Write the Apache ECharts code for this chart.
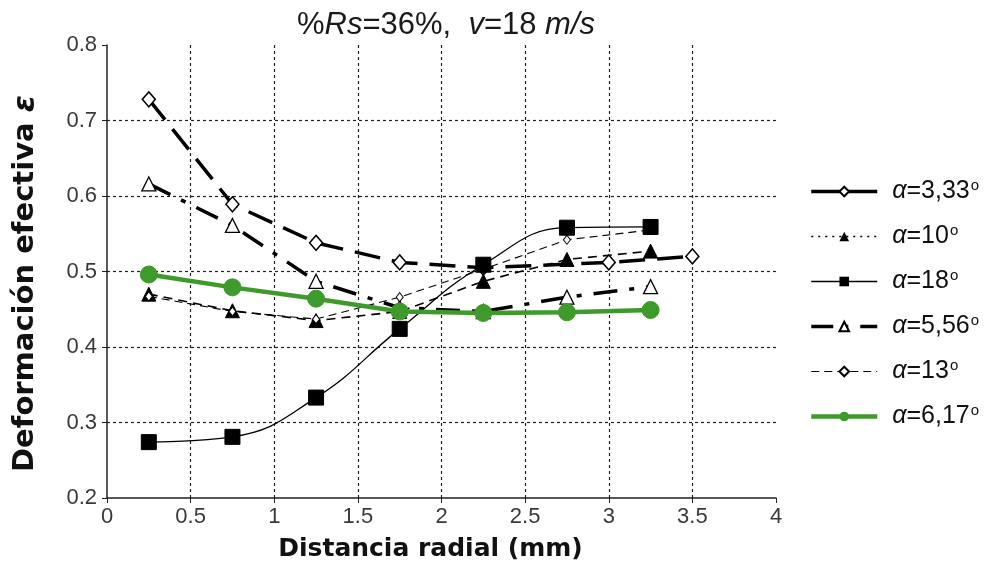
<!DOCTYPE html>
<html>
<head>
<meta charset="utf-8">
<script src="https://cdn.jsdelivr.net/npm/echarts@6/dist/echarts.min.js"></script>
<style>
	html, body { margin: 0; padding: 0; background: #fff; }
	#chart { width: 992px; height: 577px; }
</style>
</head>
<body>
<div id="chart"></div>
<script>
	// distancia radial (mm)
	var xs = [0.25, 0.75, 1.25, 1.75, 2.25, 2.75, 3.25];
	var x333 = [0.25, 0.75, 1.25, 1.75, 2.25, 3.0, 3.5];

	var y333 = [0.728, 0.589, 0.538, 0.512, 0.505, 0.512, 0.520];
	var y10 = [0.470, 0.448, 0.435, 0.447, 0.487, 0.516, 0.527];
	var y18 = [0.274, 0.281, 0.333, 0.424, 0.509, 0.558, 0.559];
	var y556 = [0.616, 0.561, 0.487, 0.452, 0.447, 0.466, 0.480];
	var y13 = [0.467, 0.447, 0.437, 0.466, 0.503, 0.542, 0.555];
	var y617 = [0.496, 0.479, 0.464, 0.447, 0.445, 0.446, 0.449];

	var names = ['3,33', '10', '18', '5,56', '13', '6,17'];

	function pairs(x, y) {
		var out = [];
		for (var i = 0; i < y.length; i++) {
			out.push([x[i], y[i]]);
		};
		return out;
	};

	function legName(v) {
		return 'α=' + v + 'º';
	};

	var green = '#3d9a2b';
	var chart = echarts.init(document.getElementById('chart'));

	// legend lines differ a bit from the plot lines
	var legLines = [
		{ type: 'solid', width: 3.5 },
		{ type: [2, 5], width: 1.6 },
		{ type: 'solid', width: 1.3 },
		{ type: [22, 10, 5, 12], width: 3.5 },
		{ type: [8, 5], width: 1.1 },
		{ type: 'solid', width: 4.5 }
	];
	var legData = [];
	for (var i = 0; i < names.length; i++) {
		legData.push({ name: legName(names[i]), lineStyle: legLines[i] });
	};

	var option = {
		backgroundColor: '#fff',
		animation: false,
		title: {
			text: '{n|%}{i|Rs}{n|=36%,  }{i|v}{n|=18 }{i|m/s}',
			left: 441,
			textAlign: 'center',
			top: 5,
			textStyle: {
				fontWeight: 'normal',
				rich: {
					n: { fontFamily: 'Liberation Sans', fontSize: 31, fontWeight: 'normal', color: '#1a1a1a' },
					i: { fontFamily: 'Liberation Sans', fontSize: 31, fontWeight: 'normal', fontStyle: 'italic', color: '#1a1a1a' }
				}
			}
		},
		grid: {
			left: 107,
			right: 216,
			top: 45,
			bottom: 79
		},
		legend: {
			orient: 'vertical',
			left: 804,
			top: 173,
			itemWidth: 66,
			itemHeight: 12,
			itemGap: 19,
			data: legData,
			formatter: function (name) {
				var v = name.slice(2, name.length - 1);
				return '{a|α}{n|=' + v + '}{s|o}';
			},
			textStyle: {
				padding: [0, 0, 0, 10],
				rich: {
					a: { fontFamily: 'Liberation Sans', fontSize: 25, fontStyle: 'italic', color: '#111', lineHeight: 27 },
					n: { fontFamily: 'Liberation Sans', fontSize: 25, color: '#111', lineHeight: 27 },
					s: { fontFamily: 'Liberation Sans', fontSize: 15, color: '#111', verticalAlign: 'top', lineHeight: 27, padding: [0, 0, 10, 1] }
				}
			}
		},
		xAxis: {
			type: 'value',
			min: 0,
			max: 4,
			interval: 0.5,
			name: 'Distancia radial (mm)',
			nameLocation: 'middle',
			nameGap: 39,
			nameTextStyle: {
				fontFamily: 'DejaVu Sans',
				fontSize: 25,
				fontWeight: 'bold',
				color: '#111',
				padding: [0, 22, 0, 0]
			},
			axisLine: { show: true, lineStyle: { color: '#222', width: 1.5 } },
			axisTick: { show: true, length: 5, lineStyle: { color: '#222' } },
			axisLabel: {
				fontFamily: 'Liberation Sans',
				fontSize: 22,
				color: '#3a3a3a',
				margin: 8
			},
			splitLine: {
				show: true,
				showMinLine: false,
				showMaxLine: false,
				lineStyle: { color: '#222', type: [3, 3], width: 1.2 }
			}
		},
		yAxis: {
			type: 'value',
			min: 0.2,
			max: 0.8,
			interval: 0.1,
			name: '{b|Deformación efectiva }{e|ε}',
			nameLocation: 'middle',
			nameGap: 66,
			nameTextStyle: {
				padding: [0, 24, 0, 0],
				rich: {
					b: { fontFamily: 'DejaVu Sans', fontSize: 29, fontWeight: 'bold', color: '#111' },
					e: { fontFamily: 'DejaVu Sans', fontSize: 31, fontWeight: 'bold', fontStyle: 'italic', color: '#111' }
				}
			},
			axisLine: { show: true, lineStyle: { color: '#222', width: 1.5 } },
			axisTick: { show: true, length: 5, lineStyle: { color: '#222' } },
			axisLabel: {
				fontFamily: 'Liberation Sans',
				fontSize: 22,
				color: '#3a3a3a',
				margin: 10,
				formatter: function (v) {
					return v.toFixed(1);
				}
			},
			splitLine: {
				show: true,
				showMinLine: false,
				showMaxLine: false,
				lineStyle: { color: '#222', type: [3, 3], width: 1.2 }
			}
		},
		series: [{
			name: legName(names[0]),
			type: 'line',
			data: pairs(x333, y333),
			symbol: 'diamond',
			symbolSize: [13, 15],
			itemStyle: { color: '#fff', borderColor: '#000', borderWidth: 1.5 },
			lineStyle: { color: '#000', width: 3.5, type: [26, 12] },
			z: 3
		}, {
			name: legName(names[1]),
			type: 'line',
			data: pairs(xs, y10),
			symbol: 'triangle',
			symbolSize: 14,
			itemStyle: { color: '#000', borderColor: '#000' },
			lineStyle: { color: '#000', width: 1.6, type: [9, 6] },
			z: 3
		}, {
			name: legName(names[2]),
			type: 'line',
			data: pairs(xs, y18),
			smooth: 0.45,
			symbol: 'rect',
			symbolSize: 15,
			itemStyle: { color: '#000', borderColor: '#000' },
			lineStyle: { color: '#000', width: 1.3, type: 'solid' },
			z: 4
		}, {
			name: legName(names[3]),
			type: 'line',
			data: pairs(xs, y556),
			symbol: 'triangle',
			symbolSize: 14,
			itemStyle: { color: '#fff', borderColor: '#000', borderWidth: 1.3 },
			lineStyle: { color: '#000', width: 3.5, type: [24, 12, 5, 12] },
			z: 3
		}, {
			name: legName(names[4]),
			type: 'line',
			data: pairs(xs, y13),
			symbol: 'diamond',
			symbolSize: [7, 9],
			itemStyle: { color: '#fff', borderColor: '#000', borderWidth: 1 },
			lineStyle: { color: '#000', width: 1.1, type: [8, 5] },
			z: 3
		}, {
			name: legName(names[5]),
			type: 'line',
			data: pairs(xs, y617),
			symbol: 'circle',
			symbolSize: 17,
			itemStyle: { color: green, borderColor: green },
			lineStyle: { color: green, width: 4.5 },
			z: 5
		}]
	};
	chart.setOption(option);
</script>
</body>
</html>
